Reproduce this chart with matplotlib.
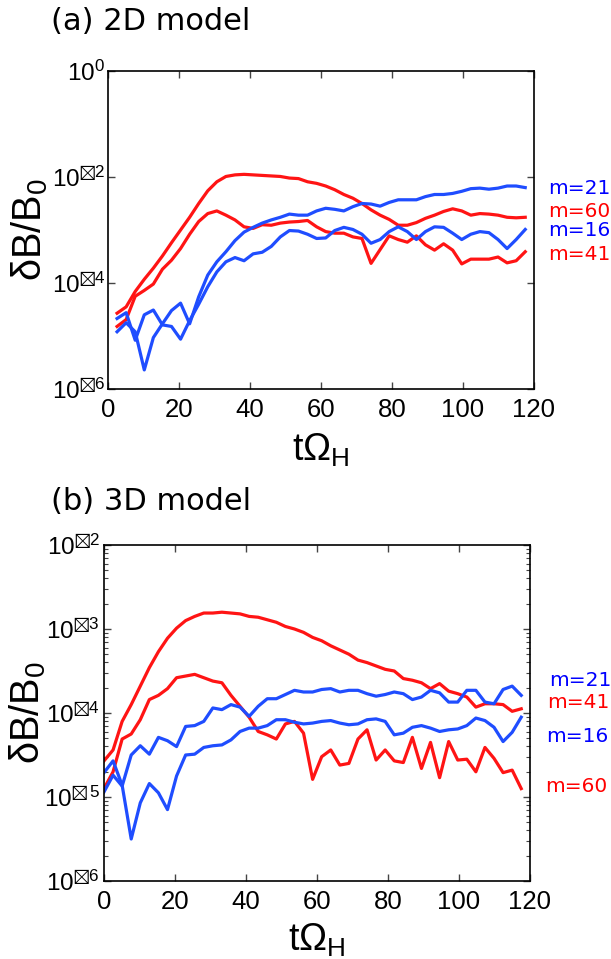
import numpy as np
import matplotlib
matplotlib.use("Agg")
import matplotlib.pyplot as plt
from matplotlib.ticker import FixedLocator, FixedFormatter, LogLocator, NullFormatter

plt.rcParams['font.family'] = ['Liberation Sans', 'DejaVu Sans']
plt.rcParams['mathtext.fontset'] = 'custom'
plt.rcParams['mathtext.rm'] = 'Liberation Sans'
plt.rcParams['mathtext.it'] = 'Liberation Sans:italic'
plt.rcParams['mathtext.bf'] = 'Liberation Sans:bold'
plt.rcParams['mathtext.fallback'] = 'stixsans'

# ---------------- data (log10 of dB/B0) ----------------
dt = 2.555
t_b = np.arange(47) * dt          # 3D model sample times
t_a = t_b[1:]                     # 2D model starts one step later

# Panel (a): 2D model
a_m21 = [-4.92, -4.75, -4.92, -5.64, -5.03, -4.77, -4.52, -4.38, -4.77, -4.26,
         -3.85, -3.60, -3.41, -3.20, -3.04, -2.95, -2.87, -2.81, -2.76, -2.70,
         -2.72, -2.72, -2.64, -2.59, -2.61, -2.64, -2.56, -2.50, -2.51, -2.55,
         -2.48, -2.43, -2.43, -2.43, -2.37, -2.33, -2.33, -2.31, -2.27, -2.22,
         -2.21, -2.23, -2.21, -2.17, -2.17, -2.20]
a_m60 = [-4.57, -4.45, -4.16, -3.93, -3.72, -3.49, -3.24, -3.00, -2.76, -2.50,
         -2.26, -2.09, -1.99, -1.96, -1.95, -1.96, -1.97, -1.98, -1.99, -2.02,
         -2.03, -2.09, -2.12, -2.17, -2.24, -2.33, -2.40, -2.50, -2.62, -2.72,
         -2.80, -2.91, -2.91, -2.86, -2.78, -2.72, -2.65, -2.60, -2.64, -2.72,
         -2.69, -2.70, -2.72, -2.76, -2.77, -2.76]
a_m16 = [-4.67, -4.56, -5.08, -4.60, -4.51, -4.79, -4.82, -5.06, -4.71, -4.40,
         -4.07, -3.79, -3.60, -3.52, -3.58, -3.45, -3.42, -3.31, -3.13, -3.01,
         -3.02, -3.08, -3.16, -3.15, -3.01, -2.95, -2.99, -3.08, -3.25, -3.18,
         -3.03, -2.94, -3.03, -3.18, -3.03, -2.94, -2.95, -3.06, -3.18, -3.08,
         -3.03, -3.05, -3.18, -3.35, -3.18, -2.99]
a_m41 = [-4.82, -4.69, -4.25, -4.14, -4.02, -3.74, -3.57, -3.35, -3.08, -2.84,
         -2.69, -2.64, -2.72, -2.81, -2.94, -2.97, -2.90, -2.91, -2.87, -2.85,
         -2.84, -2.82, -2.94, -3.03, -3.06, -3.06, -3.13, -3.16, -3.63, -3.37,
         -3.11, -3.18, -3.23, -3.11, -3.28, -3.38, -3.26, -3.38, -3.64, -3.55,
         -3.55, -3.55, -3.51, -3.62, -3.58, -3.41]

# Panel (b): 3D model
b_m21 = [-4.94, -4.74, -4.87, -4.50, -4.39, -4.49, -4.29, -4.33, -4.40, -4.16,
         -4.15, -4.10, -3.94, -3.96, -3.90, -3.93, -4.04, -3.92, -3.83, -3.83,
         -3.78, -3.73, -3.75, -3.75, -3.72, -3.71, -3.75, -3.73, -3.73, -3.77,
         -3.80, -3.78, -3.75, -3.77, -3.84, -3.81, -3.73, -3.76, -3.87, -3.87,
         -3.73, -3.73, -3.87, -3.89, -3.72, -3.68, -3.79]
b_m41 = [-4.57, -4.44, -4.10, -3.90, -3.68, -3.46, -3.27, -3.11, -2.99, -2.90,
         -2.85, -2.81, -2.81, -2.80, -2.81, -2.82, -2.85, -2.86, -2.89, -2.92,
         -2.97, -3.00, -3.04, -3.10, -3.14, -3.20, -3.25, -3.30, -3.37, -3.40,
         -3.44, -3.48, -3.50, -3.59, -3.61, -3.64, -3.71, -3.65, -3.74, -3.77,
         -3.81, -3.93, -3.89, -3.89, -3.90, -3.98, -3.95]
b_m16 = [-4.71, -4.57, -4.86, -5.50, -5.07, -4.84, -4.95, -5.15, -4.75, -4.50,
         -4.49, -4.41, -4.39, -4.38, -4.32, -4.22, -4.18, -4.18, -4.15, -4.08,
         -4.08, -4.11, -4.13, -4.12, -4.10, -4.09, -4.12, -4.14, -4.13, -4.08,
         -4.07, -4.10, -4.26, -4.24, -4.17, -4.15, -4.18, -4.22, -4.20, -4.19,
         -4.15, -4.06, -4.09, -4.17, -4.34, -4.23, -4.05]
b_m60 = [-4.90, -4.70, -4.31, -4.25, -4.08, -3.84, -3.79, -3.71, -3.58, -3.56,
         -3.54, -3.58, -3.62, -3.64, -3.79, -3.92, -4.05, -4.22, -4.26, -4.31,
         -4.13, -4.10, -4.24, -4.79, -4.52, -4.44, -4.62, -4.60, -4.31, -4.20,
         -4.56, -4.44, -4.57, -4.59, -4.29, -4.66, -4.35, -4.77, -4.34, -4.56,
         -4.55, -4.70, -4.41, -4.54, -4.71, -4.68, -4.90]

x_ticks = [0, 20, 40, 60, 80, 100, 120]
a_yticks = [1e0, 1e-2, 1e-4, 1e-6]
a_yticklabels = [r'$10^{0}$', r'$10^{⊠2}$', r'$10^{⊠4}$', r'$10^{⊠6}$']
b_yticks = [1e-2, 1e-3, 1e-4, 1e-5, 1e-6]
b_yticklabels = [r'$10^{⊠2}$', r'$10^{⊠3}$', r'$10^{⊠4}$', r'$10^{⊠\,5}$', r'$10^{⊠6}$']

a_labels = ['m=21', 'm=60', 'm=16', 'm=41']
b_labels = ['m=21', 'm=41', 'm=16', 'm=60']

RED = '#ff1414'
BLUE = '#1f4dff'

W, H = 611, 959
fig = plt.figure(figsize=(W / 100, H / 100), dpi=100)
ax1 = fig.add_axes([108 / W, 1 - 389 / H, 426 / W, 318 / H])
ax2 = fig.add_axes([104 / W, 1 - 881 / H, 426 / W, 336 / H])

lw = 2.3
ax1.plot(t_a, 10 ** np.array(a_m60), color=RED, lw=lw)
ax1.plot(t_a, 10 ** np.array(a_m41), color=RED, lw=lw)
ax1.plot(t_a, 10 ** np.array(a_m21), color=BLUE, lw=lw)
ax1.plot(t_a, 10 ** np.array(a_m16), color=BLUE, lw=lw)

ax2.plot(t_b, 10 ** np.array(b_m41), color=RED, lw=lw)
ax2.plot(t_b, 10 ** np.array(b_m60), color=RED, lw=lw)
ax2.plot(t_b, 10 ** np.array(b_m21), color=BLUE, lw=lw)
ax2.plot(t_b, 10 ** np.array(b_m16), color=BLUE, lw=lw)

for ax in (ax1, ax2):
    ax.set_yscale('log')
    ax.set_xlim(0, 120)
    ax.set_xticks(x_ticks)
    ax.set_xticklabels([str(v) for v in x_ticks])
    for s in ax.spines.values():
        s.set_linewidth(1.2)
        s.set_color('black')
    ax.tick_params(which='both', direction='in', top=True, right=True,
                   color='#444444')
    ax.tick_params(axis='x', labelsize=18.5, pad=6.5)
    ax.tick_params(axis='y', labelsize=17.5)
    ax.tick_params(which='major', length=5, width=1.0)
    ax.tick_params(which='minor', length=3, width=0.8)
    ax.set_xlabel(r'$\mathregular{t\Omega_H}$', fontsize=27)
    ax.set_ylabel(r'$\mathregular{\delta B/B_0}$', fontsize=28.5)

ax1.set_ylim(1e-6, 1e0)
ax1.yaxis.set_major_locator(FixedLocator(a_yticks))
ax1.yaxis.set_major_formatter(FixedFormatter(a_yticklabels))
ax1.yaxis.set_minor_locator(FixedLocator([]))
ax1.tick_params(axis='y', pad=2)

ax2.set_ylim(1e-6, 1e-2)
ax2.yaxis.set_major_locator(FixedLocator(b_yticks))
ax2.yaxis.set_major_formatter(FixedFormatter(b_yticklabels))
ax2.yaxis.set_minor_locator(LogLocator(base=10, subs=np.arange(2, 10)))
ax2.yaxis.set_minor_formatter(NullFormatter())
ax2.tick_params(axis='y', pad=3)

ax1.yaxis.set_label_coords(-0.136, 0.5)
ax2.yaxis.set_label_coords(-0.131, 0.5)
ax1.xaxis.set_label_coords(0.5, -0.135)
ax2.xaxis.set_label_coords(0.5, -0.122)

# panel titles
fig.text(51 / W, 1 - 21 / H, '(a) 2D model', fontsize=22, family='DejaVu Sans',
         ha='left', va='center')
fig.text(51 / W, 1 - 501 / H, '(b) 3D model', fontsize=22, family='DejaVu Sans',
         ha='left', va='center')

# right-side series labels
a_label_y = [188, 211, 231, 254]
a_label_c = [BLUE, RED, BLUE, RED]
for lab, yy, c in zip(a_labels, a_label_y, a_label_c):
    fig.text(548 / W, 1 - yy / H, lab, color='blue' if c == BLUE else 'red',
             fontsize=14.5, family='DejaVu Sans', ha='left', va='center')
b_label_y = [680, 702, 737, 787]
b_label_x = [549, 547, 546, 545]
b_label_c = [BLUE, RED, BLUE, RED]
for lab, xx, yy, c in zip(b_labels, b_label_x, b_label_y, b_label_c):
    fig.text(xx / W, 1 - yy / H, lab, color='blue' if c == BLUE else 'red',
             fontsize=14.5, family='DejaVu Sans', ha='left', va='center')

fig.savefig('out.png', dpi=100)
